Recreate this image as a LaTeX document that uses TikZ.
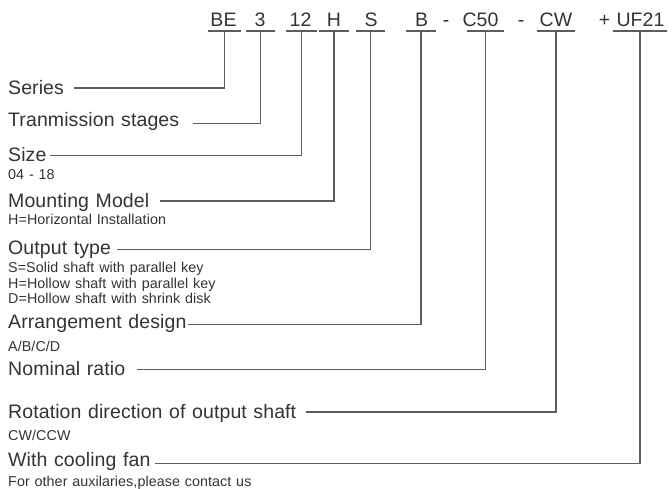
\documentclass[tikz,border=0pt]{standalone}
\usepackage{fontspec}
\setmainfont{Liberation Sans}
\newfontfamily\bigf{Liberation Sans}[WordSpace=1.3,LetterSpace=0.5]
\newfontfamily\smallf{Liberation Sans}[WordSpace=1.2,LetterSpace=0.5]
\definecolor{linegray}{RGB}{92,92,92}
\definecolor{textgray}{RGB}{52,52,52}
\begin{document}
\begin{tikzpicture}[x=1pt,y=-1pt,
  big/.style={font=\bigf\fontsize{19.5}{19.5}\selectfont, text=textgray, inner sep=0pt},
  small/.style={font=\smallf\fontsize{14.3}{14.3}\selectfont, text=textgray, inner sep=0pt},
  lbl/.style={big, anchor=base west},
  note/.style={small, anchor=base west},
  code/.style={big, anchor=base},
  uline/.style={inner sep=0pt, minimum height=0pt, minimum width=#1},
  conn/.style={draw=linegray, line width=1.2pt},
]
\useasboundingbox (0,0) rectangle (672,488);
\fill[white] (0,0) rectangle (672,488);

% code letters
\node[code] (tBE)  at (223.5,26) {BE};
\node[code] (t3)   at (260,26)   {3};
\node[code] (t12)  at (300.5,26) {12};
\node[code] (tH)   at (334,26)   {H};
\node[code] (tS)   at (371,26)   {S};
\node[code] (tB)   at (421.5,26) {B};
\node[code] (d1)   at (446,26)   {-};
\node[code] (tC)   at (480.5,26) {C50};
\node[code] (d2)   at (521,26)   {-};
\node[code] (tCW)  at (556,26)   {CW};
\node[code] (pl)   at (604.5,26) {+};
\node[code] (tUF)  at (640.5,26) {UF21};

% underline carriers
\node[uline=33pt] (uBE) at (224.5,31) {};
\node[uline=28pt] (u3)  at (260.5,31) {};
\node[uline=30pt] (u12) at (301.5,31) {};
\node[uline=29pt] (uH)  at (334,31)   {};
\node[uline=29pt] (uS)  at (370.5,31) {};
\node[uline=29pt] (uB)  at (421,31)   {};
\node[uline=36pt] (uC)  at (485.5,31) {};
\node[uline=38pt] (uCW) at (556,31)   {};
\node[uline=54pt] (uUF) at (640,31)   {};
\foreach \u in {uBE,u3,u12,uH,uS,uB,uC,uCW,uUF}
  \draw[conn] (\u.west) -- (\u.east);

% labels
\node[lbl] (lSer) at (8,94.5)  {Series};
\node[lbl] (lTra) at (8,126.7) {Tranmission stages};
\node[lbl] (lSiz) at (8,161.7) {Size};
\node[note] (nSiz) at (8,179)  {04 - 18};
\node[lbl] (lMou) at (8,207.3) {Mounting Model};
\node[note] (nMou) at (8,224)  {H=Horizontal Installation};
\node[lbl] (lOut) at (8,254)   {Output type};
\node[note] (nOut1) at (8,272.5) {S=Solid shaft with parallel key};
\node[note] (nOut2) at (8,288)   {H=Hollow shaft with parallel key};
\node[note] (nOut3) at (8,303.5) {D=Hollow shaft with shrink disk};
\node[lbl] (lArr) at (8,328.3) {Arrangement design};
\node[note] (nArr) at (8,351.7) {A/B/C/D};
\node[lbl] (lNom) at (8,375)   {Nominal ratio};
\node[lbl] (lRot) at (8,418.3) {Rotation direction of output shaft};
\node[note] (nRot) at (8,440)  {CW/CCW};
\node[lbl] (lFan) at (8,466.7) {With cooling fan};
\node[note] (nFan) at (8,486)  {For other auxilaries,please contact us};

% connector start points
\coordinate (sSer) at (74,88);
\coordinate (sTra) at (193,123.3);
\coordinate (sSiz) at (50,155.7);
\coordinate (sMou) at (160,201);
\coordinate (sOut) at (117,249.3);
\coordinate (sArr) at (188,324.7);
\coordinate (sNom) at (137,369.5);
\coordinate (sRot) at (306,412);
\coordinate (sFan) at (155,463.3);

\draw[conn] (sSer) -| (uBE.center);
\draw[conn] (sTra) -| (u3.center);
\draw[conn] (sSiz) -| (u12.center);
\draw[conn] (sMou) -| (uH.center);
\draw[conn] (sOut) -| (uS.center);
\draw[conn] (sArr) -| (uB.center);
\draw[conn] (sNom) -| (uC.center);
\draw[conn] (sRot) -| (uCW.center);
\draw[conn] (sFan) -| (uUF.center);
\end{tikzpicture}
\end{document}
